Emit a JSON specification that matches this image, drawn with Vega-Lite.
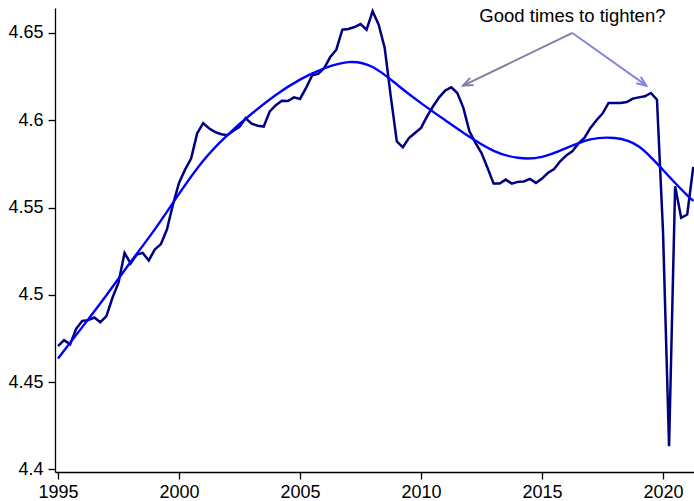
{
  "$schema": "https://vega.github.io/schema/vega-lite/v6.json",
  "width": 639,
  "height": 464,
  "autosize": {"type": "none"},
  "padding": {"left": 55, "top": 8, "right": 0, "bottom": 29},
  "background": "white",
  "config": {
    "view": {"stroke": null},
    "font": "Liberation Sans",
    "axis": {
      "grid": false,
      "title": null,
      "domainColor": "#000000",
      "domainWidth": 1.3,
      "tickColor": "#000000",
      "tickWidth": 1.3,
      "tickSize": 7,
      "labelColor": "#000000",
      "labelFont": "Liberation Sans",
      "labelFontSize": 18
    }
  },
  "datasets": {
    "series": [
      {"t": 1995.0, "v": 4.4706}, {"t": 1995.25, "v": 4.474}, {"t": 1995.5, "v": 4.4716}, {"t": 1995.75, "v": 4.4805},
      {"t": 1996.0, "v": 4.485}, {"t": 1996.25, "v": 4.4855}, {"t": 1996.5, "v": 4.487}, {"t": 1996.75, "v": 4.4843},
      {"t": 1997.0, "v": 4.4878}, {"t": 1997.25, "v": 4.4983}, {"t": 1997.5, "v": 4.507}, {"t": 1997.75, "v": 4.524},
      {"t": 1998.0, "v": 4.518}, {"t": 1998.25, "v": 4.523}, {"t": 1998.5, "v": 4.524}, {"t": 1998.75, "v": 4.5197},
      {"t": 1999.0, "v": 4.526}, {"t": 1999.25, "v": 4.529}, {"t": 1999.5, "v": 4.5374}, {"t": 1999.75, "v": 4.5517},
      {"t": 2000.0, "v": 4.5641}, {"t": 2000.25, "v": 4.5717}, {"t": 2000.5, "v": 4.578}, {"t": 2000.75, "v": 4.5925},
      {"t": 2001.0, "v": 4.5983}, {"t": 2001.25, "v": 4.5953}, {"t": 2001.5, "v": 4.5932}, {"t": 2001.75, "v": 4.592},
      {"t": 2002.0, "v": 4.5914}, {"t": 2002.25, "v": 4.594}, {"t": 2002.5, "v": 4.5962}, {"t": 2002.75, "v": 4.6012},
      {"t": 2003.0, "v": 4.598}, {"t": 2003.25, "v": 4.5969}, {"t": 2003.5, "v": 4.5964}, {"t": 2003.75, "v": 4.6051},
      {"t": 2004.0, "v": 4.6086}, {"t": 2004.25, "v": 4.6112}, {"t": 2004.5, "v": 4.611}, {"t": 2004.75, "v": 4.6131},
      {"t": 2005.0, "v": 4.6122}, {"t": 2005.25, "v": 4.6185}, {"t": 2005.5, "v": 4.6257}, {"t": 2005.75, "v": 4.6265},
      {"t": 2006.0, "v": 4.6299}, {"t": 2006.25, "v": 4.6362}, {"t": 2006.5, "v": 4.6404}, {"t": 2006.75, "v": 4.6519},
      {"t": 2007.0, "v": 4.6523}, {"t": 2007.25, "v": 4.6534}, {"t": 2007.5, "v": 4.6551}, {"t": 2007.75, "v": 4.6519},
      {"t": 2008.0, "v": 4.6624}, {"t": 2008.25, "v": 4.6547}, {"t": 2008.5, "v": 4.6414}, {"t": 2008.75, "v": 4.6137},
      {"t": 2009.0, "v": 4.5879}, {"t": 2009.25, "v": 4.5845}, {"t": 2009.5, "v": 4.5898}, {"t": 2009.75, "v": 4.5927},
      {"t": 2010.0, "v": 4.5956}, {"t": 2010.25, "v": 4.6022}, {"t": 2010.5, "v": 4.608}, {"t": 2010.75, "v": 4.6131},
      {"t": 2011.0, "v": 4.617}, {"t": 2011.25, "v": 4.6189}, {"t": 2011.5, "v": 4.6156}, {"t": 2011.75, "v": 4.6071},
      {"t": 2012.0, "v": 4.5937}, {"t": 2012.25, "v": 4.587}, {"t": 2012.5, "v": 4.5812}, {"t": 2012.75, "v": 4.5727},
      {"t": 2013.0, "v": 4.5637}, {"t": 2013.25, "v": 4.5637}, {"t": 2013.5, "v": 4.566}, {"t": 2013.75, "v": 4.5637},
      {"t": 2014.0, "v": 4.5647}, {"t": 2014.25, "v": 4.5649}, {"t": 2014.5, "v": 4.5664}, {"t": 2014.75, "v": 4.5641},
      {"t": 2015.0, "v": 4.5666}, {"t": 2015.25, "v": 4.5699}, {"t": 2015.5, "v": 4.5721}, {"t": 2015.75, "v": 4.5765},
      {"t": 2016.0, "v": 4.5798}, {"t": 2016.25, "v": 4.5822}, {"t": 2016.5, "v": 4.5866}, {"t": 2016.75, "v": 4.5899},
      {"t": 2017.0, "v": 4.5956}, {"t": 2017.25, "v": 4.6}, {"t": 2017.5, "v": 4.6038}, {"t": 2017.75, "v": 4.6099},
      {"t": 2018.0, "v": 4.6099}, {"t": 2018.25, "v": 4.6099}, {"t": 2018.5, "v": 4.6104}, {"t": 2018.75, "v": 4.6124},
      {"t": 2019.0, "v": 4.6131}, {"t": 2019.25, "v": 4.6137}, {"t": 2019.5, "v": 4.6156}, {"t": 2019.75, "v": 4.6118},
      {"t": 2020.0, "v": 4.5362}, {"t": 2020.25, "v": 4.4133}, {"t": 2020.5, "v": 4.5622}, {"t": 2020.75, "v": 4.5441},
      {"t": 2021.0, "v": 4.546}, {"t": 2021.25, "v": 4.5733}
    ],
    "trend": [
      {"t": 1995.0, "v": 4.4635}, {"t": 1996.0, "v": 4.4815},
      {"t": 1997.0, "v": 4.4998}, {"t": 1998.0, "v": 4.5188},
      {"t": 1999.0, "v": 4.5375}, {"t": 2000.0, "v": 4.5578},
      {"t": 2001.0, "v": 4.5768}, {"t": 2002.0, "v": 4.5915},
      {"t": 2003.0, "v": 4.6037}, {"t": 2004.0, "v": 4.6145},
      {"t": 2005.0, "v": 4.6233}, {"t": 2006.0, "v": 4.6297},
      {"t": 2007.0, "v": 4.6333}, {"t": 2008.0, "v": 4.6305},
      {"t": 2009.0, "v": 4.6205}, {"t": 2010.0, "v": 4.6098},
      {"t": 2011.0, "v": 4.6}, {"t": 2012.0, "v": 4.5905},
      {"t": 2013.0, "v": 4.5825}, {"t": 2014.0, "v": 4.5785},
      {"t": 2015.0, "v": 4.579}, {"t": 2016.0, "v": 4.584},
      {"t": 2017.0, "v": 4.589}, {"t": 2018.0, "v": 4.5898},
      {"t": 2019.0, "v": 4.585}, {"t": 2020.0, "v": 4.5715},
      {"t": 2021.0, "v": 4.557}, {"t": 2021.27, "v": 4.554}
    ],
    "arrows": [
      {"arrow": "left", "t": 2016.256, "v": 4.65, "t2": 2011.736, "v2": 4.6198},
      {"arrow": "right", "t": 2016.256, "v": 4.65, "t2": 2019.314, "v2": 4.6198}
    ],
    "label": [
      {"t": 2016.256, "v": 4.6561, "text": "Good times to tighten?"}
    ]
  },
  "layer": [
    {
      "data": {"name": "series"},
      "mark": {"type": "line", "color": "#000080", "strokeWidth": 2.5},
      "encoding": {
        "x": {
          "field": "t", "type": "quantitative",
          "scale": {"domain": [1994.876, 2021.28], "nice": false, "zero": false},
          "axis": {"values": [1995, 2000, 2005, 2010, 2015, 2020], "format": "d", "labelPadding": 4}
        },
        "y": {
          "field": "v", "type": "quantitative",
          "scale": {"domain": [4.3985, 4.6643], "nice": false, "zero": false},
          "axis": {"values": [4.4, 4.45, 4.5, 4.55, 4.6, 4.65], "format": "~g", "labelPadding": 5}
        }
      }
    },
    {
      "data": {"name": "trend"},
      "mark": {"type": "line", "color": "#0000ff", "strokeWidth": 2.4, "interpolate": "natural"},
      "encoding": {
        "x": {"field": "t", "type": "quantitative"},
        "y": {"field": "v", "type": "quantitative"}
      }
    },
    {
      "data": {"name": "arrows"},
      "mark": {"type": "rule", "strokeWidth": 2},
      "encoding": {
        "x": {"field": "t", "type": "quantitative"},
        "y": {"field": "v", "type": "quantitative"},
        "x2": {"field": "t2"},
        "y2": {"field": "v2"},
        "color": {"field": "arrow", "type": "nominal", "scale": {"domain": ["left", "right"], "range": ["#7f7fa0", "#8585e0"]}, "legend": null}
      }
    },
    {
      "data": {"name": "arrows"},
      "transform": [{"filter": "datum.arrow === 'left'"}],
      "mark": {"type": "point", "shape": "M-1,-0.4L0,0L-1,0.4", "filled": false, "strokeWidth": 2, "size": 380, "angle": 154.3, "color": "#7f7fa0", "opacity": 1},
      "encoding": {
        "x": {"field": "t2", "type": "quantitative"},
        "y": {"field": "v2", "type": "quantitative"}
      }
    },
    {
      "data": {"name": "arrows"},
      "transform": [{"filter": "datum.arrow === 'right'"}],
      "mark": {"type": "point", "shape": "M-1,-0.4L0,0L-1,0.4", "filled": false, "strokeWidth": 2, "size": 380, "angle": 35.5, "color": "#8585e0", "opacity": 1},
      "encoding": {
        "x": {"field": "t2", "type": "quantitative"},
        "y": {"field": "v2", "type": "quantitative"}
      }
    },
    {
      "data": {"name": "label"},
      "mark": {"type": "text", "fontSize": 18.5, "font": "Liberation Sans", "align": "center", "baseline": "alphabetic", "color": "#000000"},
      "encoding": {
        "x": {"field": "t", "type": "quantitative"},
        "y": {"field": "v", "type": "quantitative"},
        "text": {"field": "text"}
      }
    }
  ]
}
